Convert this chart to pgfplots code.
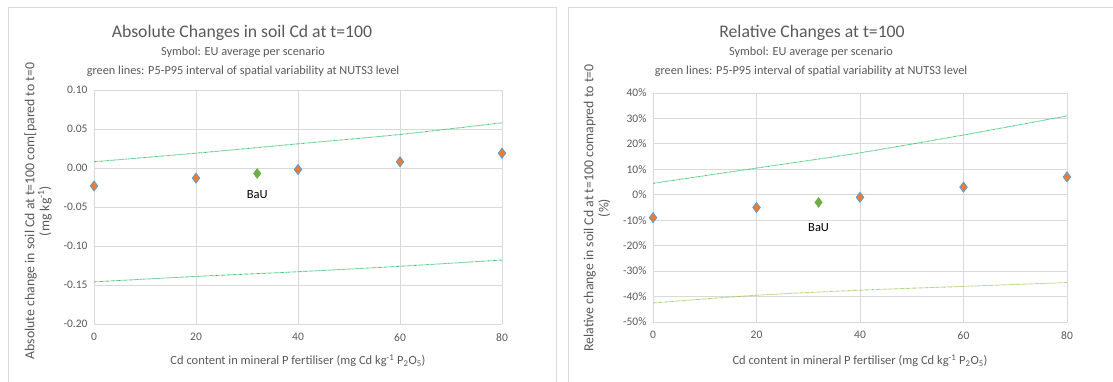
\documentclass[border=0pt]{standalone}
\usepackage{pgfplots}
\pgfplotsset{compat=1.18}
\usepackage{fontspec}
\setmainfont{Carlito}
\definecolor{txt}{HTML}{595959}
\definecolor{gridc}{HTML}{D9D9D9}
\definecolor{morange}{HTML}{ED7D31}
\definecolor{mblue}{HTML}{5B9BD5}
\definecolor{mgreen}{HTML}{70AD47}
\definecolor{lgreen}{HTML}{2FC26A}
\definecolor{ogreen}{HTML}{9BCB5A}
\definecolor{border}{HTML}{D9D9D9}
\pgfplotsset{
  exstyle/.style={
    scale only axis, clip=false,
    axis line style={draw=none},
    grid=major, major grid style={gridc, line width=0.9pt},
    major tick length=0pt,
    xmin=0, xmax=80, xtick={0,20,40,60,80},
    xticklabels={0,20,40,60,80},
    tick label style={font=\fontsize{11.5}{13}\selectfont, text=txt},
    yticklabel style={xshift=-3pt},
    xticklabel style={yshift=-6pt},
  },
  scen/.style={only marks, mark=diamond*, mark size=5pt, mark options={fill=morange, draw=mblue, line width=0.8pt}},
  bau/.style={only marks, mark=diamond*, mark size=5pt, mark options={fill=mgreen, draw=mgreen}},
  pline/.style={#1, line width=0.9pt, dash pattern=on 0.6pt off 0.6pt, no marks, smooth},
}
\begin{document}
\begin{tikzpicture}
\useasboundingbox (0pt,0pt) rectangle (1113pt,382pt);
\draw[border, line width=0.9pt] (8pt,-5pt) rectangle (556pt,375pt);
\draw[border, line width=0.9pt] (568pt,-5pt) rectangle (1118pt,375pt);
% left titles
\node[text=txt, font=\fontsize{17.7}{20}\selectfont] at (242pt,349pt) {Absolute Changes in soil Cd at t=100};
\node[text=txt, font=\fontsize{12.3}{14}\selectfont] at (243pt,330pt) {Symbol: EU average per scenario};
\node[text=txt, font=\fontsize{12.3}{14}\selectfont] at (243pt,311pt) {green lines: P5-P95 interval of spatial variability at NUTS3 level};
\node[text=txt, rotate=90, align=center, font=\fontsize{13.8}{15}\selectfont] at (38pt,171pt) {Absolute change in soil Cd at t=100 com[pared to t=0\\(mg kg\textsuperscript{-1})};
\node[text=txt, font=\fontsize{12.5}{14}\selectfont] at (298pt,21pt) {Cd content in mineral P fertiliser (mg Cd kg\textsuperscript{-1} P\textsubscript{2}O\textsubscript{5})};
% right titles
\node[text=txt, font=\fontsize{17.7}{20}\selectfont] at (812pt,349pt) {Relative Changes at t=100};
\node[text=txt, font=\fontsize{12.3}{14}\selectfont] at (811pt,330pt) {Symbol: EU average per scenario};
\node[text=txt, font=\fontsize{12.3}{14}\selectfont] at (811pt,311pt) {green lines: P5-P95 interval of spatial variability at NUTS3 level};
\node[text=txt, rotate=90, align=center, font=\fontsize{13.8}{15}\selectfont] at (597pt,174pt) {Relative change in soil Cd at t=100 comapred to t=0\\(\%)};
\node[text=txt, font=\fontsize{12.5}{14}\selectfont] at (860pt,21pt) {Cd content in mineral P fertiliser (mg Cd kg\textsuperscript{-1} P\textsubscript{2}O\textsubscript{5})};

\begin{axis}[exstyle, at={(94pt,58pt)}, anchor=south west, width=408pt, height=234pt,
  ymin=-0.2, ymax=0.1, ytick={-0.2,-0.15,-0.1,-0.05,0,0.05,0.1},
  yticklabels={-0.20,-0.15,-0.10,-0.05,0.00,0.05,0.10}]
\addplot[pline=lgreen] coordinates {(0,0.008) (20,0.019) (40,0.031) (60,0.043) (80,0.058)};
\addplot[pline=lgreen] coordinates {(0,-0.146) (20,-0.139) (40,-0.133) (60,-0.126) (80,-0.118)};
\addplot[scen] coordinates {(0,-0.023) (20,-0.013) (40,-0.002) (60,0.008) (80,0.019)};
\addplot[bau] coordinates {(32,-0.007)};
\node[text=black, font=\fontsize{12.5}{14}\selectfont] at (axis cs:32,-0.007) [yshift=-21pt] {BaU};
\end{axis}

\begin{axis}[exstyle, at={(653pt,60pt)}, anchor=south west, width=414pt, height=229pt,
  ymin=-50, ymax=40, ytick={-50,-40,-30,-20,-10,0,10,20,30,40},
  yticklabels={-50\%,-40\%,-30\%,-20\%,-10\%,0\%,10\%,20\%,30\%,40\%}]
\addplot[pline=lgreen] coordinates {(0,4.5) (20,10.5) (40,16.5) (60,23.5) (80,31)};
\addplot[pline=ogreen] coordinates {(0,-42.5) (20,-39.5) (40,-37.5) (60,-36) (80,-34.5)};
\addplot[scen] coordinates {(0,-9) (20,-5) (40,-1) (60,3) (80,7)};
\addplot[bau] coordinates {(32,-3)};
\node[text=black, font=\fontsize{12.5}{14}\selectfont] at (axis cs:32,-3) [yshift=-25pt] {BaU};
\end{axis}
\end{tikzpicture}
\end{document}
